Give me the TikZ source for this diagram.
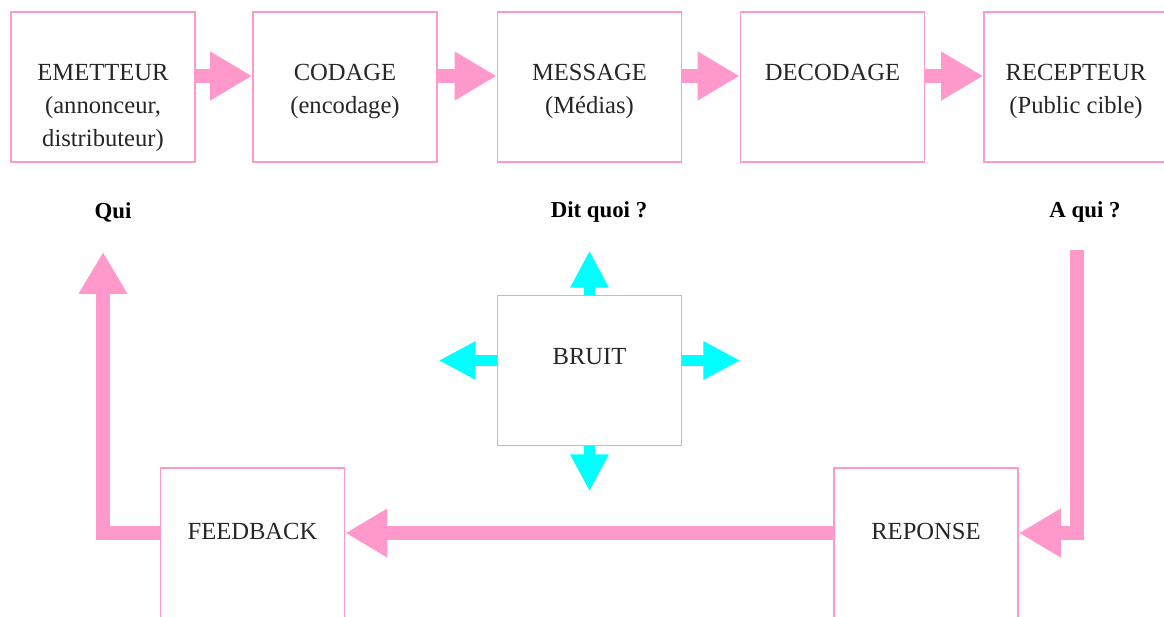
\documentclass[tikz,border=0pt]{standalone}
\usepackage{fontspec}
\setmainfont{Liberation Serif}
\usetikzlibrary{arrows.meta,positioning}
\definecolor{rose}{HTML}{FF99CC}
\definecolor{turq}{HTML}{00FFFF}
\tikzset{
  bloc/.style={draw=rose,line width=1pt,minimum width=3.68cm,minimum height=3cm,inner sep=0pt},
  txt/.style={anchor=north,align=center,inner sep=0pt,text=black!85,font=\fontsize{14}{18.7}\selectfont},
  quest/.style={inner sep=0pt,font=\fontsize{13}{15}\selectfont\bfseries},
  fl/.style={rose,line width=7.8pt,-{Triangle[length=0.84cm,width=0.92cm]}},
  flb/.style={turq,line width=6.2pt,-{Triangle[length=0.74cm,width=0.72cm]}}
}
\begin{document}
\begin{tikzpicture}[x=0.02cm,y=-0.02cm]
        \useasboundingbox (0,0) rectangle (1164,616);
        % boites
        \node[bloc](emet)at(103,87){};
        \node[bloc](cod)at(345,87){};
        \node[bloc](mess)at(589.5,87){};
        \node[bloc](decod)at(832.5,87){};
        \node[bloc](recep)at(1076,87){};
        \node[bloc](bruit)at(589.5,370.5){};
        \node[bloc](feed)at(252.5,543){};
        \node[bloc](rep)at(926,543){};
        % textes
        \node[txt](emet-t)at([yshift=-1.06cm]emet.north){EMETTEUR\\(annonceur,\\distributeur)};
        \node[txt](cod-t)at([yshift=-1.06cm]cod.north){CODAGE\\(encodage)};
        \node[txt](mess-t)at([yshift=-1.06cm]mess.north){MESSAGE\\(Médias)};
        \node[txt](decod-t)at([yshift=-1.06cm]decod.north){DECODAGE};
        \node[txt](recep-t)at([yshift=-1.06cm]recep.north){RECEPTEUR\\(Public cible)};
        \node[txt](bruit-t)at([yshift=-1.06cm]bruit.north){BRUIT};
        \node[txt](feed-t)at([yshift=-1.12cm]feed.north){FEEDBACK};
        \node[txt](rep-t)at([yshift=-1.12cm]rep.north){REPONSE};
        \node[quest](qui)at(113,212){Qui};
        \node[quest](ditquoi)at(599,212){Dit quoi ?};
        \node[quest](aqui)at(1085,212){A qui ?};
        % fleches
        \draw[fl]([yshift=0.22cm]emet.east)--([yshift=0.22cm]cod.west);
        \draw[fl]([yshift=0.22cm]cod.east)--([yshift=0.22cm]mess.west);
        \draw[fl]([yshift=0.22cm]mess.east)--([yshift=0.22cm]decod.west);
        \draw[fl]([yshift=0.22cm]decod.east)--([yshift=0.22cm]recep.west);
        \coordinate(fb-end)at(103,252);
        \coordinate(aq-start)at(1077,250);
        \draw[fl](aq-start)|-([yshift=0.2cm]rep.east);
        \draw[fl]([yshift=0.2cm]rep.west)--([yshift=0.2cm]feed.east);
        \draw[fl]([yshift=0.2cm]feed.west)-|(fb-end);
        % bruit
        \coordinate(br-n)at([yshift=0.88cm]bruit.north);
        \coordinate(br-s)at([yshift=-0.9cm]bruit.south);
        \coordinate(br-w)at([xshift=-1.16cm,yshift=0.2cm]bruit.west);
        \coordinate(br-e)at([xshift=1.16cm,yshift=0.2cm]bruit.east);
        \draw[flb](bruit.north)--(br-n);
        \draw[flb](bruit.south)--(br-s);
        \draw[flb]([yshift=0.2cm]bruit.west)--(br-w);
        \draw[flb]([yshift=0.2cm]bruit.east)--(br-e);
    \end{tikzpicture}
\end{document}
